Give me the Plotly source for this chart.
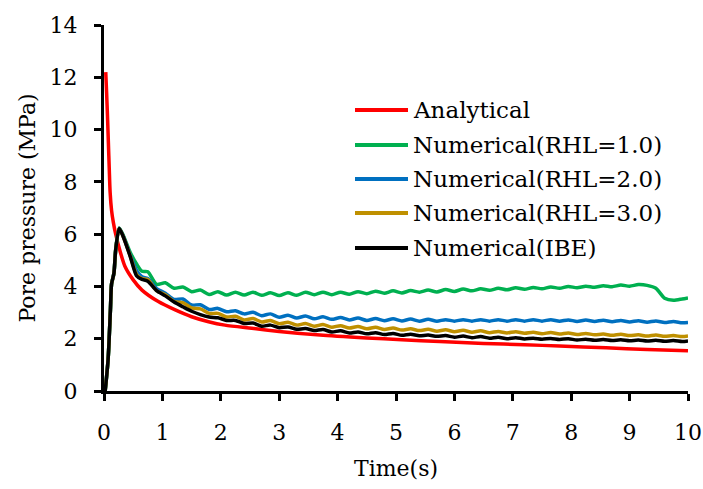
import plotly.graph_objects as go

# ---------------- data ----------------
t_analytical = [0.03, 0.045, 0.06, 0.075, 0.09, 0.105, 0.13, 0.16, 0.2, 0.27, 0.36, 0.5, 0.65, 0.93,
                1.22, 1.5, 1.79, 2.07, 2.53, 3.0, 3.7, 4.5, 5.1, 5.75, 6.5, 7.2, 7.8, 8.6, 9.3, 10.0]
p_analytical = [12.2, 11.4, 10.5, 9.5, 8.5, 7.6, 6.9, 6.45, 6.0, 5.39, 4.76, 4.25, 3.86, 3.42,
                3.10, 2.84, 2.65, 2.52, 2.40, 2.28, 2.14, 2.03, 1.96, 1.89, 1.82, 1.77, 1.72, 1.65, 1.59, 1.54]

t_numerical = [0.02, 0.07, 0.11, 0.13, 0.17, 0.2, 0.26, 0.33, 0.45, 0.56, 0.65,
               0.75, 0.9, 1.05, 1.2, 1.35, 1.5, 1.65, 1.8, 1.95, 2.1, 2.25, 2.4, 2.55, 2.7, 2.85,
               3.0, 3.15, 3.3, 3.45, 3.6, 3.75, 3.9, 4.05, 4.2, 4.35, 4.5, 4.65, 4.8, 4.95,
               5.1, 5.25, 5.4, 5.55, 5.7, 5.85, 6.0, 6.15, 6.3, 6.45, 6.6, 6.75, 6.9, 7.05,
               7.2, 7.35, 7.5, 7.65, 7.8, 7.95, 8.1, 8.25, 8.4, 8.55, 8.7, 8.85, 9.0, 9.15,
               9.3, 9.45, 9.6, 9.75, 9.9, 10.0]

p_rhl1 = [0.0, 1.2, 3.1, 4.1, 4.5, 5.4, 6.24, 5.95, 5.3, 4.85, 4.58,
          4.56, 4.08, 4.14, 3.93, 3.98, 3.80, 3.86, 3.69, 3.80, 3.67, 3.78, 3.67, 3.78, 3.66, 3.76,
          3.65, 3.76, 3.66, 3.78, 3.68, 3.78, 3.68, 3.78, 3.70, 3.80, 3.72, 3.82, 3.74, 3.83,
          3.75, 3.84, 3.78, 3.86, 3.79, 3.88, 3.81, 3.90, 3.83, 3.91, 3.85, 3.93, 3.87, 3.95,
          3.89, 3.96, 3.91, 3.98, 3.93, 4.00, 3.95, 4.01, 3.97, 4.03, 3.99, 4.05, 4.01, 4.07,
          4.04, 3.93, 3.55, 3.47, 3.52, 3.56]

p_rhl2 = [0.0, 1.2, 3.1, 4.1, 4.5, 5.4, 6.23, 5.92, 5.2, 4.6, 4.37,
          4.30, 3.92, 3.74, 3.50, 3.52, 3.29, 3.30, 3.12, 3.16, 3.03, 3.07, 2.95, 3.01, 2.88, 2.95,
          2.82, 2.90, 2.79, 2.87, 2.76, 2.84, 2.74, 2.81, 2.72, 2.79, 2.70, 2.77, 2.69, 2.76,
          2.68, 2.75, 2.67, 2.74, 2.67, 2.73, 2.67, 2.73, 2.67, 2.73, 2.67, 2.73, 2.67, 2.73,
          2.67, 2.73, 2.67, 2.73, 2.67, 2.72, 2.66, 2.72, 2.66, 2.71, 2.65, 2.70, 2.64, 2.69,
          2.63, 2.68, 2.62, 2.66, 2.61, 2.62]

p_rhl3 = [0.0, 1.2, 3.1, 4.1, 4.5, 5.4, 6.22, 5.9, 5.16, 4.45, 4.30,
          4.26, 3.84, 3.68, 3.42, 3.38, 3.18, 3.14, 2.97, 2.97, 2.83, 2.86, 2.72, 2.77, 2.64, 2.70,
          2.57, 2.63, 2.52, 2.58, 2.48, 2.54, 2.44, 2.50, 2.41, 2.47, 2.38, 2.44, 2.35, 2.41,
          2.33, 2.38, 2.31, 2.36, 2.29, 2.34, 2.27, 2.32, 2.25, 2.30, 2.23, 2.28, 2.22, 2.27,
          2.21, 2.25, 2.19, 2.24, 2.18, 2.22, 2.16, 2.20, 2.15, 2.18, 2.13, 2.17, 2.12, 2.15,
          2.10, 2.14, 2.09, 2.12, 2.08, 2.10]

p_ibe = [0.0, 1.2, 3.1, 4.1, 4.5, 5.4, 6.22, 5.9, 5.14, 4.4, 4.27,
         4.20, 3.84, 3.64, 3.40, 3.22, 3.05, 2.92, 2.83, 2.80, 2.70, 2.70, 2.58, 2.60, 2.48, 2.52,
         2.42, 2.45, 2.36, 2.39, 2.31, 2.35, 2.26, 2.30, 2.22, 2.26, 2.19, 2.23, 2.16, 2.20,
         2.13, 2.17, 2.11, 2.14, 2.09, 2.12, 2.06, 2.10, 2.04, 2.08, 2.02, 2.06, 2.00, 2.04,
         1.99, 2.02, 1.98, 2.01, 1.97, 2.00, 1.95, 1.98, 1.94, 1.97, 1.93, 1.96, 1.92, 1.95,
         1.91, 1.94, 1.90, 1.93, 1.89, 1.91]

series_names = ["Analytical", "Numerical(RHL=1.0)", "Numerical(RHL=2.0)",
                "Numerical(RHL=3.0)", "Numerical(IBE)"]
series_colors = ["#FF0000", "#00B050", "#0070C0", "#BF9000", "#000000"]

x_ticks = [0, 1, 2, 3, 4, 5, 6, 7, 8, 9, 10]
y_ticks = [0, 2, 4, 6, 8, 10, 12, 14]

# ---------------- figure ----------------
FONT = "DejaVu Serif"
W, H = 703, 489
ML, MR, MT, MB = 104, 15, 25, 98

fig = go.Figure()
xs = [t_analytical] + [t_numerical] * 4
ys = [p_analytical, p_rhl1, p_rhl2, p_rhl3, p_ibe]
for name, color, x, y in zip(series_names, series_colors, xs, ys):
    fig.add_trace(go.Scatter(x=x, y=y, mode="lines", name=name,
                             line=dict(color=color, width=3.5, shape="spline", smoothing=0.7),
                             showlegend=False))

# manual legend (paper coordinates)
pw, ph = W - ML - MR, H - MT - MB
def px2x(px):
    return (px - ML) / pw
def py2y(py):
    return (H - MB - py) / ph

row_y = [110, 145, 179, 213, 248]
for name, color, ry in zip(series_names, series_colors, row_y):
    fig.add_shape(type="line", xref="paper", yref="paper",
                  x0=px2x(355), x1=px2x(408), y0=py2y(ry), y1=py2y(ry),
                  line=dict(color=color, width=4))
    fig.add_annotation(xref="paper", yref="paper", x=px2x(411), y=py2y(ry),
                       text=name, showarrow=False, xanchor="left", yanchor="middle",
                       font=dict(family=FONT, size=23, color="black"))

axis_common = dict(showline=True, linecolor="black", linewidth=3, ticks="outside",
                   tickwidth=3, ticklen=7, tickcolor="black", showgrid=False, zeroline=False,
                   automargin=False,
                   tickfont=dict(family=FONT, size=22, color="black"))
fig.update_xaxes(range=[0, 10], tickvals=x_ticks, ticktext=[str(v) for v in x_ticks],
                 title=dict(text="Time(s)", font=dict(family=FONT, size=22, color="black"), standoff=17),
                 ticklabelstandoff=13, **axis_common)
fig.update_yaxes(range=[0, 14], tickvals=y_ticks, ticktext=[str(v) for v in y_ticks],
                 title=dict(text="Pore pressure (MPa)", font=dict(family=FONT, size=22, color="black"), standoff=8),
                 ticklabelstandoff=12, **axis_common)

fig.update_layout(width=W, height=H, margin=dict(l=ML, r=MR, t=MT, b=MB),
                  plot_bgcolor="white", paper_bgcolor="white", showlegend=False)

fig.write_html("out.html")
